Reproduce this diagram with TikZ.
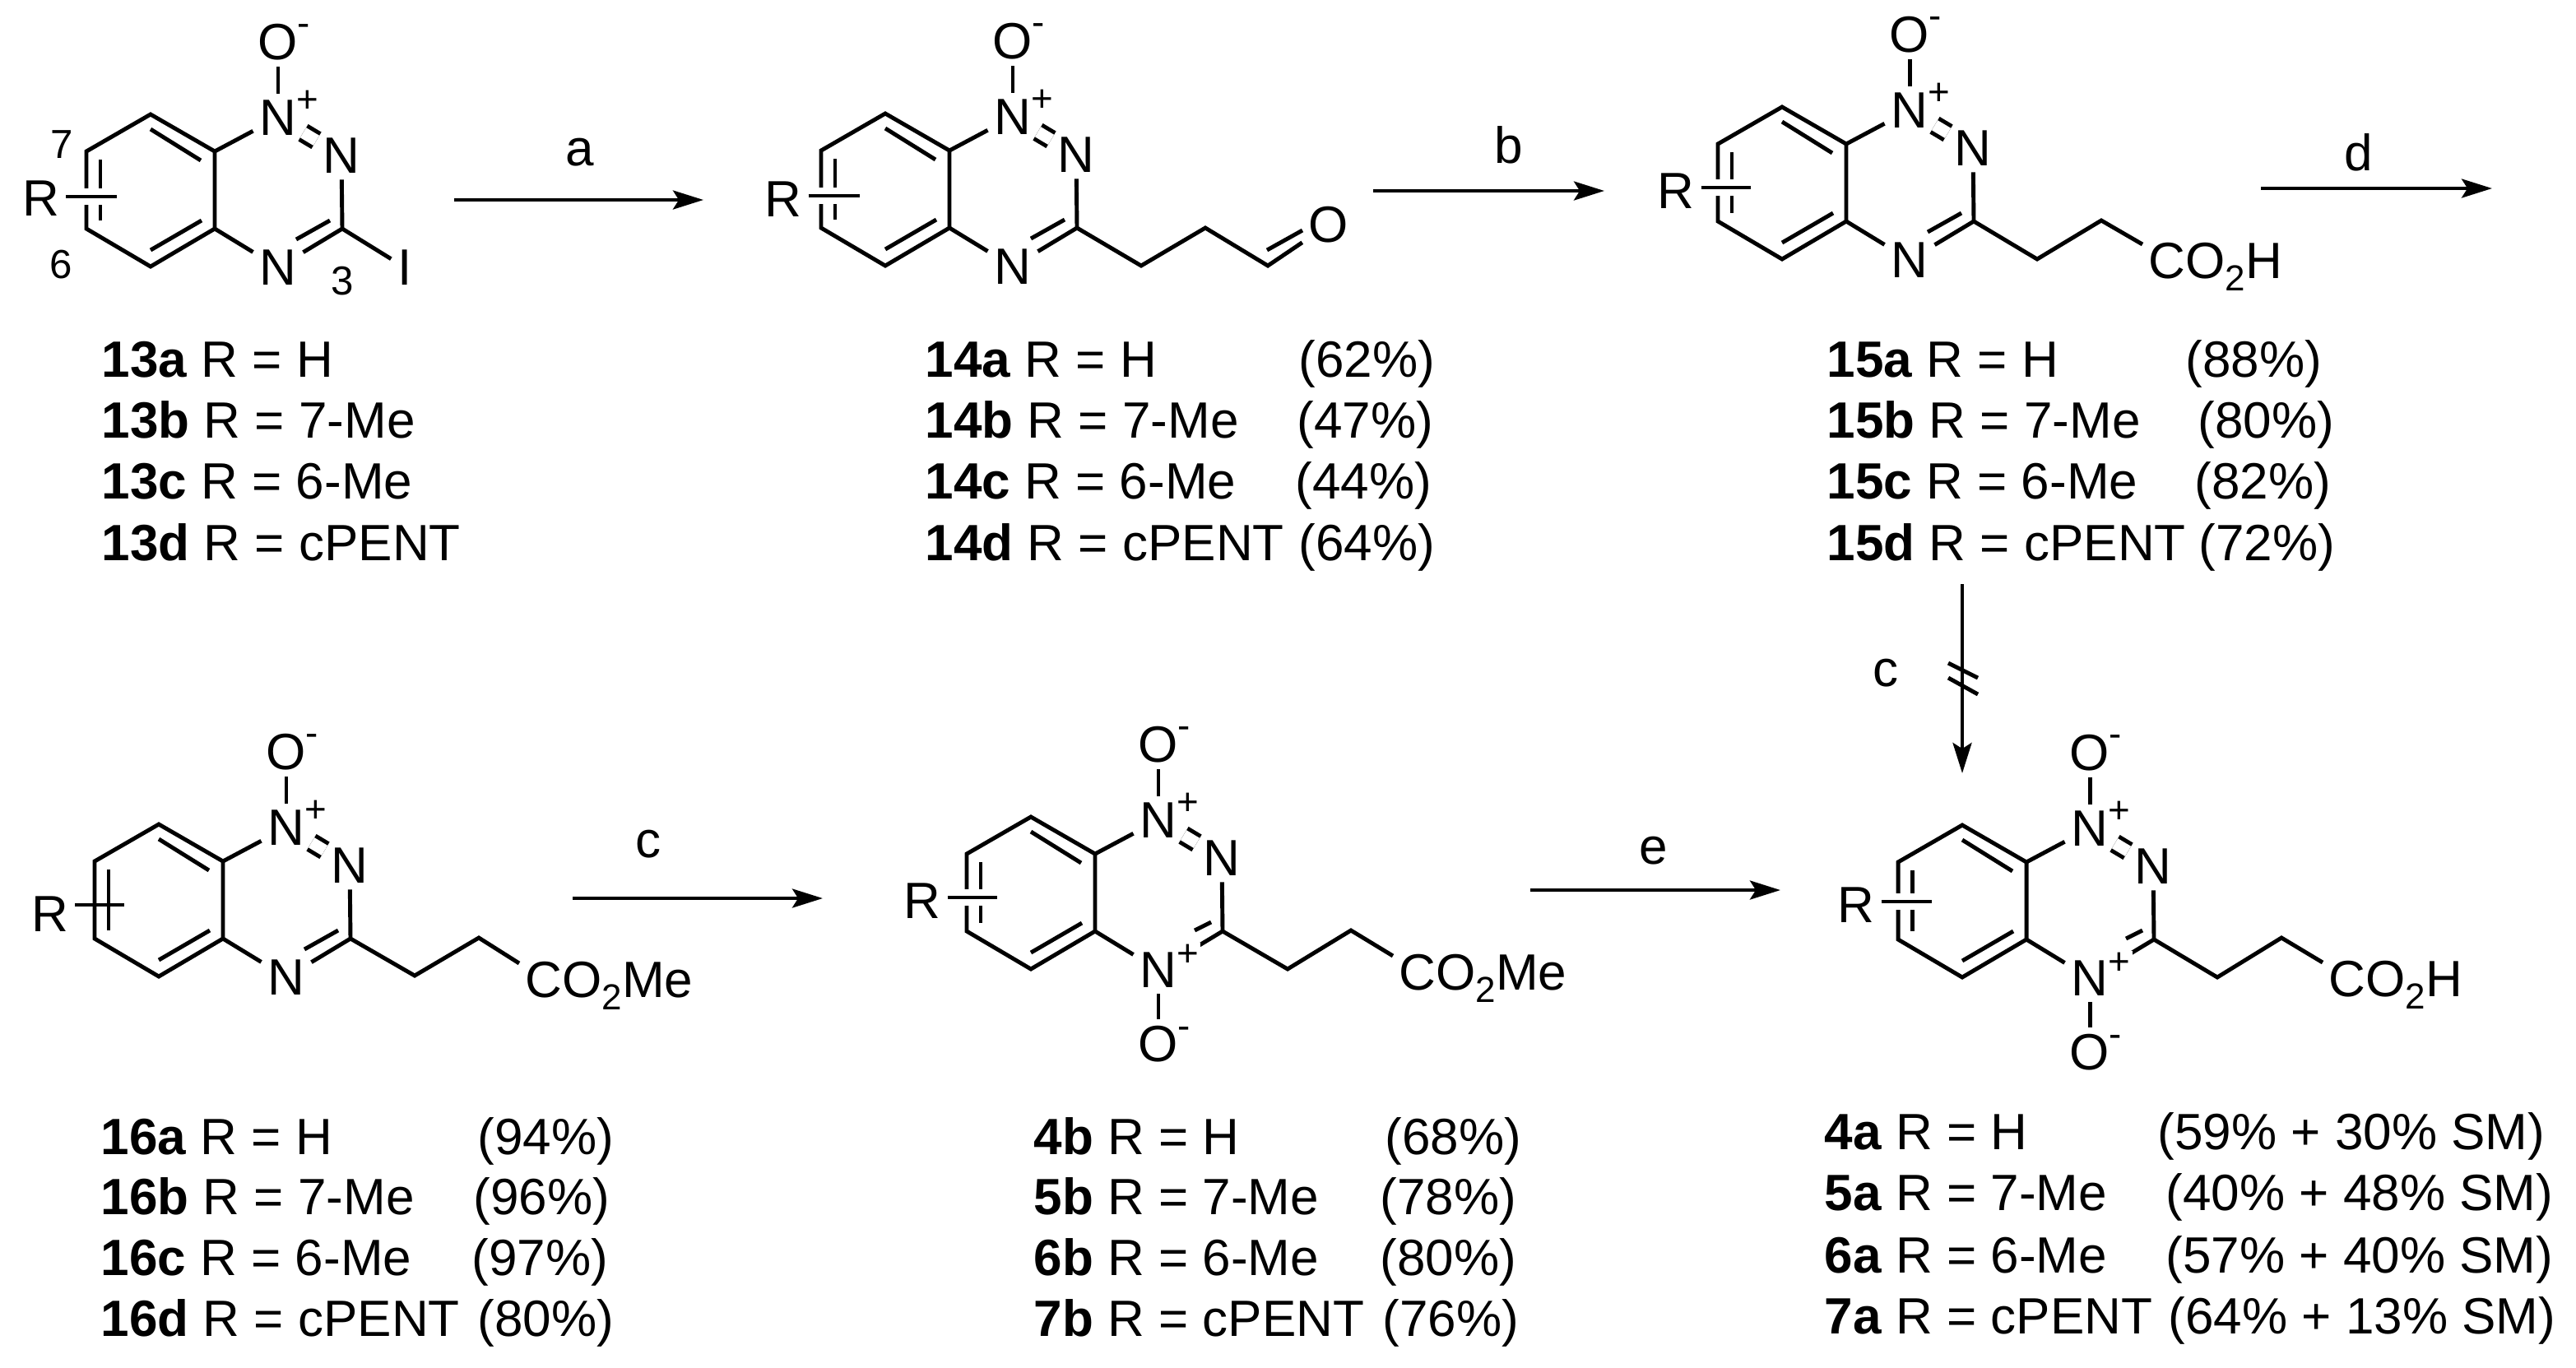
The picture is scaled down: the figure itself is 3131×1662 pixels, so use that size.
\documentclass[tikz,border=0pt]{standalone}
\usepackage{fontspec}
\setmainfont{Liberation Sans}
\usetikzlibrary{arrows.meta}
\newcommand{\sbtwo}{\raisebox{-.25em}{\fontsize{12.5}{14}\selectfont 2}}
\begin{document}
\begin{tikzpicture}[x=.01cm,y=-.01cm,
	every node/.style={inner sep=0pt,font=\fontsize{17.64}{21}\selectfont},
	atom/.style={outer sep=2.3pt},
	chg/.style={font=\fontsize{13}{15}\selectfont},
	locant/.style={font=\fontsize{14}{16}\selectfont},
	txt/.style={anchor=base west},
	bond/.style={line width=1.4pt},
	rbond/.style={bond,preaction={draw=white,line width=5.6pt}},
	nn/.style={bond,double,double distance=4pt},
	rxn/.style={line width=1.35pt,-{Stealth[length=10.5pt,width=6.5pt,inset=2pt]}},
	pics/ring/.style={code={
		\coordinate (-ul) at (0,45); \coordinate (-top) at (78,0); \coordinate (-ur) at (156,45);
		\coordinate (-lr) at (156,139); \coordinate (-bot) at (78,185); \coordinate (-ll) at (0,139);
		\coordinate (-C3) at (311,139);
		\coordinate (-a1) at (78,18); \coordinate (-a2) at (139,56);
		\coordinate (-b1) at (78,165); \coordinate (-b2) at (140,129);
		\coordinate (-c1) at (17,55); \coordinate (-c2) at (17,129);
		\node[atom] (-N1) at (233,4) {N};
		\node[atom] (-N2) at (310,50) {N};
		\node[atom] (-N4) at (233,186) {N};
		\node[atom] (-O1) at (233,-88) {O};
		\node[chg] (-p1) at (269,-16) {+};
		\node[chg] (-m1) at (264,-102) {-};
		\draw[bond] (-ur) -- (-top) -- (-ul) -- (-ll) -- (-bot) -- (-lr) -- cycle;
		\draw[bond] (-a1) -- (-a2);
		\draw[bond] (-b1) -- (-b2);
		\draw[bond] (-c1) -- (-c2);
		\draw[bond] (-ur) -- (-N1);
		\draw[bond] (-lr) -- (-N4);
		\draw[bond] (-O1) -- (-N1);
		\draw[bond] (-N2) -- (-C3);
		\draw[bond] (-C3) -- (-N4);
		\draw[nn] (-N1) -- (-N2);
	}},
	pics/mono/.style={code={
		\coordinate (-d1) at (296,129); \coordinate (-d2) at (255,152);
		\draw[bond] (-d1) -- (-d2);
	}},
	pics/oxide/.style={code={
		\coordinate (-d1) at (297,128); \coordinate (-d2) at (277,138);
		\draw[bond] (-d1) -- (-d2);
		\node[atom] (-O2) at (233,276) {O};
		\node[chg,fill=white,inner sep=.6pt] (-p2) at (269,168) {+};
		\node[chg] (-m2) at (264,262) {-};
		\draw[bond] (-N4) -- (-O2);
	}}]

	\useasboundingbox (0,0) rectangle (3131,1662);

	% 13
	\pic (s13) at (105,139) {ring};
	\pic (s13) at (105,139) {mono};
	\node[atom] (r13) at (50,241) {R};
	\coordinate (e13) at (142,239);
	\draw[rbond] (r13.east |- e13) -- (e13);
	\node[atom] (iodo) at (492,325) {I};
	\draw[bond] (s13-C3) -- (iodo);
	\node[locant] (p7) at (75,176) {7};
	\node[locant] (p6) at (74,322) {6};
	\node[locant] (p3) at (416,342) {3};

	% 14
	\pic (s14) at (998,138) {ring};
	\pic (s14) at (998,138) {mono};
	\node[atom] (r14) at (952,242) {R};
	\coordinate (e14) at (1045,238);
	\draw[rbond] (r14.east |- e14) -- (e14);
	\coordinate (c14a) at (1387,323);
	\coordinate (c14b) at (1465,277);
	\coordinate (c14c) at (1541,323);
	\coordinate (c14d) at (1540,304);
	\coordinate (c14e) at (1583,280);
	\node[atom] (ald) at (1615,273) {O};
	\draw[bond] (s14-C3) -- (c14a) -- (c14b) -- (c14c) -- (ald);
	\draw[bond] (c14d) -- (c14e);

	% 15
	\pic (s15) at (2088,130) {ring};
	\pic (s15) at (2088,130) {mono};
	\node[atom] (r15) at (2037,232) {R};
	\coordinate (e15) at (2128,228);
	\draw[rbond] (r15.east |- e15) -- (e15);
	\coordinate (c15a) at (2476,315);
	\coordinate (c15b) at (2554,268);
	\node[txt] (co15) at (2611,338) {CO\sbtwo H};
	\draw[bond] (s15-C3) -- (c15a) -- (c15b) -- ([shift={(-7,3)}]co15.north west);

	% 16
	\pic (s16) at (115,1002) {ring};
	\pic (s16) at (115,1002) {mono};
	\node[atom] (r16) at (61,1111) {R};
	\coordinate (e16) at (151,1100);
	\draw[bond] (r16.east |- e16) -- (e16);
	\coordinate (c16a) at (504,1186);
	\coordinate (c16b) at (582,1140);
	\node[txt] (co16) at (638,1212) {CO\sbtwo Me};
	\draw[bond] (s16-C3) -- (c16a) -- (c16b) -- ([shift={(-7,3)}]co16.north west);

	% 4b
	\pic (s4b) at (1175,993) {ring};
	\pic (s4b) at (1175,993) {oxide};
	\node[atom] (r4b) at (1121,1095) {R};
	\coordinate (e4b) at (1212,1091);
	\draw[rbond] (r4b.east |- e4b) -- (e4b);
	\coordinate (c4ba) at (1565,1178);
	\coordinate (c4bb) at (1642,1131);
	\node[txt] (co4b) at (1700,1203) {CO\sbtwo Me};
	\draw[bond] (s4b-C3) -- (c4ba) -- (c4bb) -- ([shift={(-7,3)}]co4b.north west);

	% 4a
	\pic (s4a) at (2307,1003) {ring};
	\pic (s4a) at (2307,1003) {oxide};
	\node[atom] (r4a) at (2256,1100) {R};
	\coordinate (e4a) at (2348,1096);
	\draw[rbond] (r4a.east |- e4a) -- (e4a);
	\coordinate (c4aa) at (2695,1188);
	\coordinate (c4ab) at (2773,1140);
	\node[txt] (co4a) at (2830,1211) {CO\sbtwo H};
	\draw[bond] (s4a-C3) -- (c4aa) -- (c4ab) -- ([shift={(-7,3)}]co4a.north west);

	% arrows
	\coordinate (a1) at (552,243); \coordinate (a2) at (855,243);
	\coordinate (b1) at (1669,232); \coordinate (b2) at (1950,232);
	\coordinate (d1) at (2748,229); \coordinate (d2) at (3029,229);
	\coordinate (c1) at (696,1092); \coordinate (c2) at (1000,1092);
	\coordinate (e1) at (1860,1082); \coordinate (e2) at (2164,1082);
	\coordinate (f1) at (2385,710); \coordinate (f2) at (2385,940);
	\coordinate (x1) at (2368,806); \coordinate (x2) at (2404,824);
	\coordinate (x3) at (2368,824); \coordinate (x4) at (2404,844);
	\draw[rxn] (a1) -- (a2);
	\draw[rxn] (b1) -- (b2);
	\draw[rxn] (d1) -- (d2);
	\draw[rxn] (c1) -- (c2);
	\draw[rxn] (e1) -- (e2);
	\draw[rxn] (f1) -- (f2);
	\draw[bond] (x1) -- (x2);
	\draw[bond] (x3) -- (x4);
	\node (la) at (705,185) {a};
	\node (lb) at (1834,176) {b};
	\node (ld) at (2867,185) {d};
	\node (lc) at (788,1026) {c};
	\node (le) at (2010,1034) {e};
	\node (lf) at (2292,818) {c};

	% compounds
	\node[txt] (n13a) at (123,458) {\textbf{13a} R = H};
	\node[txt] (n13b) at (123,532) {\textbf{13b} R = 7-Me};
	\node[txt] (n13c) at (123,606) {\textbf{13c} R = 6-Me};
	\node[txt] (n13d) at (123,681) {\textbf{13d} R = cPENT};

	\node[txt] (n14a) at (1124,458) {\textbf{14a} R = H}; \node[txt] (y14a) at (1578,458) {(62\%)};
	\node[txt] (n14b) at (1124,532) {\textbf{14b} R = 7-Me}; \node[txt] (y14b) at (1576,532) {(47\%)};
	\node[txt] (n14c) at (1124,606) {\textbf{14c} R = 6-Me}; \node[txt] (y14c) at (1574,606) {(44\%)};
	\node[txt] (n14d) at (1124,681) {\textbf{14d} R = cPENT}; \node[txt] (y14d) at (1578,681) {(64\%)};

	\node[txt] (n15a) at (2220,458) {\textbf{15a} R = H}; \node[txt] (y15a) at (2656,458) {(88\%)};
	\node[txt] (n15b) at (2220,532) {\textbf{15b} R = 7-Me}; \node[txt] (y15b) at (2671,532) {(80\%)};
	\node[txt] (n15c) at (2220,606) {\textbf{15c} R = 6-Me}; \node[txt] (y15c) at (2667,606) {(82\%)};
	\node[txt] (n15d) at (2220,681) {\textbf{15d} R = cPENT}; \node[txt] (y15d) at (2672,681) {(72\%)};

	\node[txt] (n16a) at (122,1403) {\textbf{16a} R = H}; \node[txt] (y16a) at (580,1403) {(94\%)};
	\node[txt] (n16b) at (122,1476) {\textbf{16b} R = 7-Me}; \node[txt] (y16b) at (575,1476) {(96\%)};
	\node[txt] (n16c) at (122,1550) {\textbf{16c} R = 6-Me}; \node[txt] (y16c) at (573,1550) {(97\%)};
	\node[txt] (n16d) at (122,1624) {\textbf{16d} R = cPENT}; \node[txt] (y16d) at (580,1624) {(80\%)};

	\node[txt] (n4b) at (1256,1403) {\textbf{4b} R = H}; \node[txt] (y4b) at (1683,1403) {(68\%)};
	\node[txt] (n5b) at (1256,1476) {\textbf{5b} R = 7-Me}; \node[txt] (y5b) at (1677,1476) {(78\%)};
	\node[txt] (n6b) at (1256,1550) {\textbf{6b} R = 6-Me}; \node[txt] (y6b) at (1677,1550) {(80\%)};
	\node[txt] (n7b) at (1256,1624) {\textbf{7b} R = cPENT}; \node[txt] (y7b) at (1680,1624) {(76\%)};

	\node[txt] (n4a) at (2217,1397) {\textbf{4a} R = H}; \node[txt] (y4a) at (2622,1397) {(59\% + 30\% SM)};
	\node[txt] (n5a) at (2217,1471) {\textbf{5a} R = 7-Me}; \node[txt] (y5a) at (2632,1471) {(40\% + 48\% SM)};
	\node[txt] (n6a) at (2217,1547) {\textbf{6a} R = 6-Me}; \node[txt] (y6a) at (2632,1547) {(57\% + 40\% SM)};
	\node[txt] (n7a) at (2217,1621) {\textbf{7a} R = cPENT}; \node[txt] (y7a) at (2635,1621) {(64\% + 13\% SM)};

\end{tikzpicture}
\end{document}
